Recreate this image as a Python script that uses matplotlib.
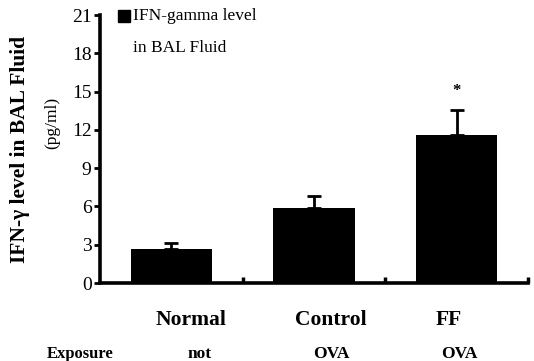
import matplotlib.pyplot as plt
from matplotlib.patches import Rectangle
import numpy as np

groups = ["Normal", "Control", "FF"]
exposure = ["not", "OVA", "OVA"]
ifn = [2.65, 5.9, 11.6]
err = [0.45, 0.9, 1.95]
yticks = [0, 3, 6, 9, 12, 15, 18, 21]

plt.rcParams['font.family'] = ['Liberation Serif', 'DejaVu Serif']

fig = plt.figure(figsize=(5.34, 3.61), dpi=100)
ax = fig.add_axes([0.187, 0.216, 0.802, 0.742])

x = np.arange(len(groups))
ax.bar(x, ifn, width=0.57, color='black', zorder=2)
ax.errorbar(x, ifn, yerr=[np.zeros(3), err], fmt='none', ecolor='black',
            elinewidth=2, capsize=5, capthick=2, zorder=3)
ax.text(x[2], ifn[2] + err[2] + 1.5, '*', ha='center', va='center',
        fontsize=12, fontweight='bold')

ax.set_xlim(-0.5, 2.5)
ax.set_ylim(0, 21)
ax.set_yticks(yticks)
ax.set_yticklabels([str(v) for v in yticks], fontsize=14)
ax.set_xticks([0.5, 1.5, 2.5])
ax.set_xticklabels([])
ax.tick_params(axis='x', direction='in', length=4, width=2.5)
ax.tick_params(axis='y', direction='out', length=4, width=2, pad=2)

for s in ['top', 'right']:
    ax.spines[s].set_visible(False)
ax.spines['left'].set_linewidth(2.6)
ax.spines['bottom'].set_linewidth(2.6)

# legend
fig.patches.append(Rectangle((0.221, 0.939), 0.0225, 0.033, color='black',
                             transform=fig.transFigure, figure=fig))
fig.text(0.249, 0.956, 'IFN-gamma level', fontsize=12.5, ha='left', va='center')
fig.text(0.249, 0.868, 'in BAL Fluid', fontsize=12.5, ha='left', va='center')

# y label
fig.text(0.037, 0.585, 'IFN-\u03b3 level in BAL Fluid', rotation=90,
         fontsize=15.5, fontweight='bold', ha='center', va='center')
fig.text(0.097, 0.66, '(pg/ml)', rotation=90, fontsize=12.5,
         ha='center', va='center')

# group labels
xpos_grp = [0.358, 0.62, 0.841]
for xp, g in zip(xpos_grp, groups):
    fig.text(xp, 0.114, g, fontsize=15.5, fontweight='bold', ha='center', va='center')
fig.text(0.150, 0.02, 'Exposure', fontsize=12, fontweight='bold', ha='center', va='center')
xpos_exp = [0.373, 0.62, 0.86]
for xp, e in zip(xpos_exp, exposure):
    fig.text(xp, 0.02, e, fontsize=12.5, fontweight='bold', ha='center', va='center')

fig.savefig('out.png', dpi=100)
